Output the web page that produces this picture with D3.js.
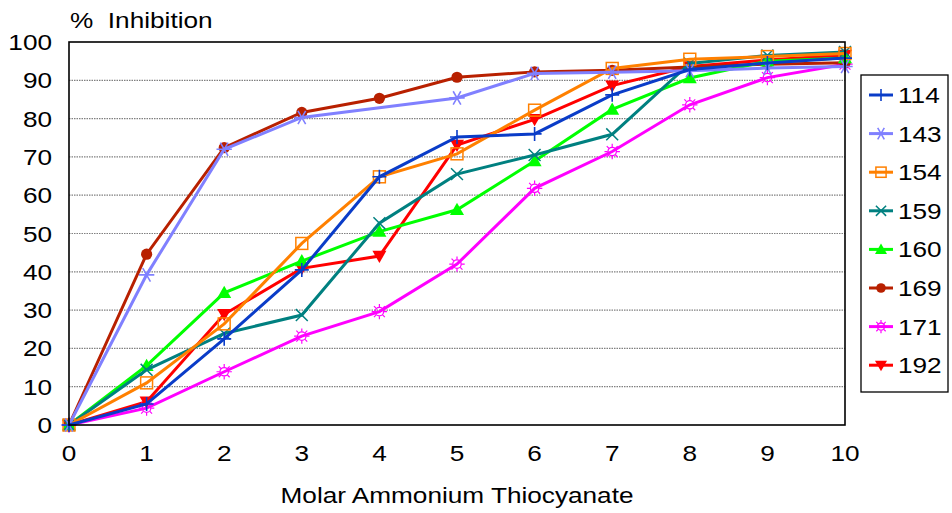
<!DOCTYPE html>
<html><head><meta charset="utf-8">
<script src="https://cdn.jsdelivr.net/npm/d3@7"></script>
<style>body{margin:0;background:#fff}svg{display:block;font-family:"Liberation Sans",Arial,sans-serif}</style>
</head><body><svg id="c" width="952" height="513"></svg>
<script>
const xValues = [0,1,2,3,4,5,6,7,8,9,10];
const yTicks = [0,10,20,30,40,50,60,70,80,90,100];
const seriesNames = ["114","143","154","159","160","169","171","192"];
const s114 = [0, 5.5, 22.5, 40.5, 64.8, 75.2, 76.0, 86.2, 92.8, 94.5, 95.8];
const s143 = [0, 39.2, 72.0, 80.3, null, 85.4, 91.8, 92.1, 92.5, 93.2, 93.6];
const s154 = [0, 11.0, 26.4, 47.4, 64.8, 70.8, 82.2, 93.1, 95.5, 96.2, 97.0];
const s159 = [0, 14.4, 23.9, 28.7, 52.7, 65.5, 70.5, 75.9, 94.4, 96.5, 97.4];
const s160 = [0, 15.5, 34.5, 42.8, 50.5, 56.2, 68.9, 82.4, 90.6, 95.0, 95.8];
const s169 = [0, 44.6, 72.4, 81.6, 85.3, 90.8, 92.2, 92.6, 93.5, 94.2, 94.6];
const s171 = [0, 4.4, 13.9, 23.2, 29.6, 42.0, 61.8, 71.4, 83.6, 90.7, 94.2];
const s192 = [0, 6.1, 28.9, 40.9, 44.1, 73.1, 79.8, 88.6, 93.6, 95.3, 96.6];
const seriesValues = [s114,s143,s154,s159,s160,s169,s171,s192];
const colors = ["#0A3CC8","#8080FF","#FF8000","#008080","#00FF00","#B82000","#FF00FF","#FF0000"];
const shapes = ["plus","asterisk","square","cross","triUp","circle","sun","triDown"];
const xLabel = "Molar Ammonium Thiocyanate";
const yLabel = "%  Inhibition";

const svg = d3.select("#c");
const L=69, T=42, R=845, B=425;
const FS=22, SX=1.19;
const x = d3.scaleLinear().domain([0,10]).range([L,R]);
const y = d3.scaleLinear().domain([0,100]).range([B,T]);

function txt(parent, px, py, s, anchor){
  const g = parent.append("g").attr("transform",`translate(${px},${py}) scale(${SX},1)`);
  g.append("text").attr("x",0).attr("y",0).attr("text-anchor",anchor||"start")
    .attr("font-size",FS).attr("fill","#000").style("white-space","pre").text(s);
  return g;
}

// gridlines
svg.append("g").selectAll("line").data(yTicks.filter(v=>v>0&&v<100)).join("line")
  .attr("x1",L).attr("x2",R).attr("y1",d=>y(d)).attr("y2",d=>y(d))
  .attr("stroke","#808080").attr("stroke-width",1.2).attr("stroke-dasharray","1.5,1");

const ax = svg.append("g");
yTicks.forEach(v=>txt(ax,52,y(v)+8,String(v),"end"));
xValues.forEach(v=>txt(ax,x(v),461,String(v),"middle"));

txt(svg,70,28,yLabel,"start");
txt(svg,(L+R)/2,503,xLabel,"middle");

function markerPath(g, shape, color, size){
  const s=size;
  switch(shape){
    case "plus":
      g.append("path").attr("d",`M${-s},0H${s}M0,${-s}V${s}`).attr("stroke",color).attr("stroke-width",1.6).attr("fill","none");break;
    case "asterisk":{
      const k=s*1.1;
      let d=`M${-k},0H${k}`;
      [60,120].forEach(a=>{const r=a*Math.PI/180;d+=`M${-k*Math.cos(r)},${-k*Math.sin(r)}L${k*Math.cos(r)},${k*Math.sin(r)}`;});
      g.append("path").attr("d",d).attr("stroke",color).attr("stroke-width",1.6).attr("fill","none");break;}
    case "square":
      g.append("rect").attr("x",-s*0.85).attr("y",-s*0.85).attr("width",s*1.7).attr("height",s*1.7).attr("stroke",color).attr("stroke-width",1.5).attr("fill","none");break;
    case "cross":{
      const k=s*0.85;
      g.append("path").attr("d",`M${-k},${-k}L${k},${k}M${-k},${k}L${k},${-k}`).attr("stroke",color).attr("stroke-width",1.5).attr("fill","none");break;}
    case "triUp":
      g.append("path").attr("d",`M0,${-s}L${s},${s*0.75}L${-s},${s*0.75}Z`).attr("fill",color);break;
    case "triDown":
      g.append("path").attr("d",`M0,${s}L${s},${-s*0.75}L${-s},${-s*0.75}Z`).attr("fill",color);break;
    case "circle":
      g.append("circle").attr("r",s*0.8).attr("fill",color);break;
    case "sun":{
      g.append("circle").attr("r",s*0.6).attr("fill","#fff").attr("fill-opacity",0).attr("stroke",color).attr("stroke-width",1.3);
      let d="";
      for(let i=0;i<8;i++){const a=i*Math.PI/4;d+=`M${s*0.65*Math.cos(a)},${s*0.65*Math.sin(a)}L${s*1.1*Math.cos(a)},${s*1.1*Math.sin(a)}`;}
      g.append("path").attr("d",d).attr("stroke",color).attr("stroke-width",1.2);break;}
  }
}

const line = d3.line().x(d=>x(d[0])).y(d=>y(d[1]));
const plot = svg.append("g");
for(let i=seriesNames.length-1;i>=0;i--){
  const pts = xValues.map((xv,j)=>[xv,seriesValues[i][j]]).filter(p=>p[1]!=null);
  const g = plot.append("g");
  g.append("path").datum(pts).attr("d",line).attr("fill","none").attr("stroke",colors[i]).attr("stroke-width",3);
  pts.forEach(p=>{
    const m=g.append("g").attr("transform",`translate(${x(p[0])},${y(p[1])})`);
    markerPath(m,shapes[i],colors[i],7);
  });
}

// frame
svg.append("rect").attr("x",L).attr("y",T).attr("width",R-L).attr("height",B-T).attr("fill","none").attr("stroke","#000").attr("stroke-width",1.6);

// legend
const lg = svg.append("g");
lg.append("rect").attr("x",861).attr("y",75).attr("width",87).attr("height",317).attr("fill","#fff").attr("stroke","#000").attr("stroke-width",1.3);
seriesNames.forEach((n,i)=>{
  const cy = 95 + i*38.6;
  lg.append("line").attr("x1",869).attr("x2",893).attr("y1",cy).attr("y2",cy).attr("stroke",colors[i]).attr("stroke-width",3);
  const m = lg.append("g").attr("transform",`translate(881,${cy})`);
  markerPath(m,shapes[i],colors[i],6);
  txt(lg,898,cy+8,n,"start");
});
</script></body></html>
